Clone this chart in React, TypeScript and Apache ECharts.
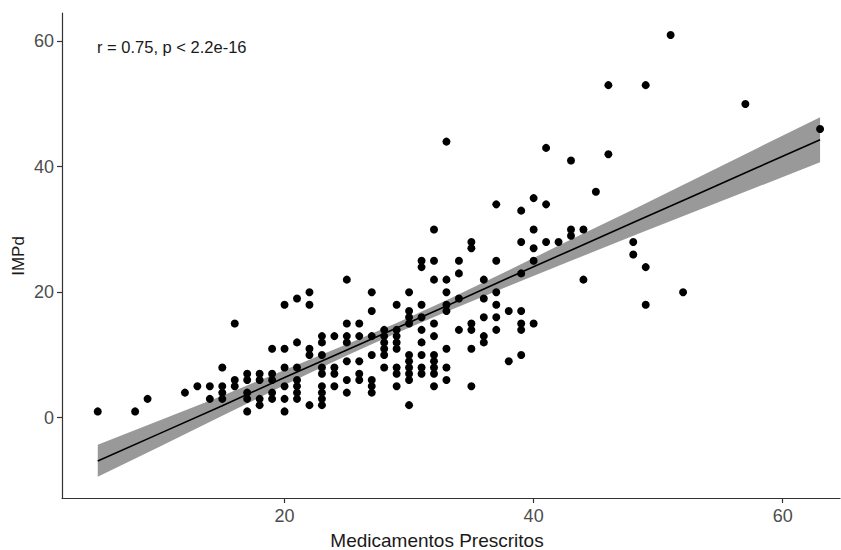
import React, { useEffect, useRef } from "react";
import * as echarts from "echarts";

// Medicamentos Prescritos (x) and the IMPd values observed at each x
const medicamentos = [5, 8, 9, 12, 13, 14, 15, 16, 17, 18, 19, 20, 21, 22, 23, 24, 25, 26, 27, 28, 29, 30, 31, 32, 33, 34, 35, 36, 37, 38, 39, 40, 41, 42, 43, 44, 45, 46, 48, 49, 51, 52, 57, 63];
const impd = [
  [1], [1], [3], [4], [5], [5, 3], [8, 5, 4, 3], [15, 6, 5], [7, 6, 4, 3, 1], [7, 6, 3, 2],
  [11, 7, 6, 4, 3], [18, 11, 8, 5, 3, 1], [19, 12, 8, 6, 5, 4, 3], [20, 18, 11, 10, 2],
  [13, 12, 10, 8, 7, 5, 4, 3, 2], [13, 8, 7, 5], [22, 15, 13, 12, 9, 6, 4], [15, 13, 9, 7, 6],
  [20, 17, 13, 10, 6, 5, 4], [14, 13, 12, 11, 10, 8], [18, 14, 13, 12, 11, 8, 7, 5],
  [20, 17, 16, 15, 10, 9, 8, 7, 6, 2], [25, 24, 18, 16, 14, 12, 10, 8, 7],
  [30, 25, 22, 15, 13, 10, 9, 8, 7, 5], [44, 22, 20, 18, 17, 11, 8, 6], [25, 23, 19, 14],
  [28, 27, 15, 14, 11, 5], [22, 19, 16, 13, 12], [34, 25, 20, 18, 16, 14], [17, 9],
  [33, 28, 23, 17, 15, 14, 10], [35, 30, 27, 25, 15], [43, 34, 28], [28], [41, 30, 29],
  [30, 22], [36], [53, 42], [28, 26], [53, 24, 18], [61], [20], [50], [46],
];

// Regression line and its confidence band
const bandX = [5, 10, 15, 20, 25, 29, 33, 38, 43, 48, 53, 58, 63];
const fitY = [-6.9, -2.5, 1.9, 6.4, 10.8, 14.3, 17.8, 22.3, 26.7, 31.1, 35.5, 39.9, 44.3];
const bandUpper = [-4.3, -0.4, 3.5, 7.6, 11.7, 15.1, 18.7, 23.5, 28.4, 33.2, 38.1, 43.0, 47.9];
const bandLower = [-9.4, -4.6, 0.3, 5.2, 9.9, 13.5, 16.9, 21.0, 25.0, 29.0, 32.9, 36.8, 40.7];

const xTicks = [20, 40, 60];
const yTicks = [0, 20, 40, 60];

const annotation = "r = 0.75, p < 2.2e-16";
const xTitle = "Medicamentos Prescritos";
const yTitle = "IMPd";

const FONT = "'Liberation Sans', Arial, sans-serif";

export default function App() {
  const ref = useRef<HTMLDivElement>(null);

  useEffect(() => {
    if (!ref.current) return;
    const chart = echarts.init(ref.current, null, { renderer: "svg" });

    const points: number[][] = [];
    medicamentos.forEach((x, i) => {
      impd[i].forEach((y) => points.push([x, y]));
    });

    const axisLineStyle = { color: "#333333", width: 1.2 };

    chart.setOption({
      animation: false,
      backgroundColor: "#ffffff",
      grid: { left: 62, right: 1, top: 13, bottom: 52, containLabel: false },
      xAxis: {
        type: "value",
        min: 2.13,
        max: 64.6,
        splitLine: { show: false },
        axisLine: { show: true, onZero: false, lineStyle: axisLineStyle },
        axisTick: { show: true, length: 5, customValues: xTicks, lineStyle: axisLineStyle },
        axisLabel: {
          customValues: xTicks,
          color: "#4d4d4d",
          fontSize: 18,
          fontFamily: FONT,
          margin: 9,
        },
      },
      yAxis: {
        type: "value",
        min: -12.8,
        max: 64.5,
        splitLine: { show: false },
        axisLine: { show: true, onZero: false, lineStyle: axisLineStyle },
        axisTick: { show: true, length: 5, customValues: yTicks, lineStyle: axisLineStyle },
        axisLabel: {
          customValues: yTicks,
          color: "#4d4d4d",
          fontSize: 18,
          fontFamily: FONT,
          margin: 8,
        },
      },
      graphic: [
        {
          type: "text",
          x: 97,
          y: 47,
          style: {
            text: annotation,
            fill: "#1a1a1a",
            fontSize: 16.5,
            fontFamily: FONT,
            verticalAlign: "middle",
            align: "left",
          },
        },
        {
          type: "text",
          x: 437,
          y: 540,
          style: {
            text: xTitle,
            fill: "#1a1a1a",
            fontSize: 19,
            fontFamily: FONT,
            verticalAlign: "middle",
            align: "center",
          },
        },
        {
          type: "text",
          x: 18,
          y: 256,
          rotation: Math.PI / 2,
          style: {
            text: yTitle,
            fill: "#1a1a1a",
            fontSize: 17,
            fontFamily: FONT,
            verticalAlign: "middle",
            align: "center",
          },
        },
      ],
      series: [
        {
          type: "custom",
          coordinateSystem: "cartesian2d",
          z: 1,
          silent: true,
          data: [[bandX[0], bandUpper[0]]],
          renderItem: (_params: any, api: any) => {
            const pts: number[][] = [];
            bandX.forEach((x, i) => pts.push(api.coord([x, bandUpper[i]])));
            for (let i = bandX.length - 1; i >= 0; i--) pts.push(api.coord([bandX[i], bandLower[i]]));
            return {
              type: "polygon",
              shape: { points: pts },
              style: { fill: "#999999", stroke: "none" },
            };
          },
        },
        {
          type: "line",
          z: 2,
          silent: true,
          symbol: "none",
          data: bandX.map((x, i) => [x, fitY[i]]),
          lineStyle: { color: "#000000", width: 1.6 },
        },
        {
          type: "scatter",
          z: 3,
          silent: true,
          symbol: "circle",
          symbolSize: 8,
          itemStyle: { color: "#000000", opacity: 1 },
          data: points,
        },
      ],
    });

    return () => chart.dispose();
  }, []);

  return (
    <div
      ref={ref}
      style={{ position: "absolute", left: 0, top: 0, width: 841, height: 550 }}
    />
  );
}
